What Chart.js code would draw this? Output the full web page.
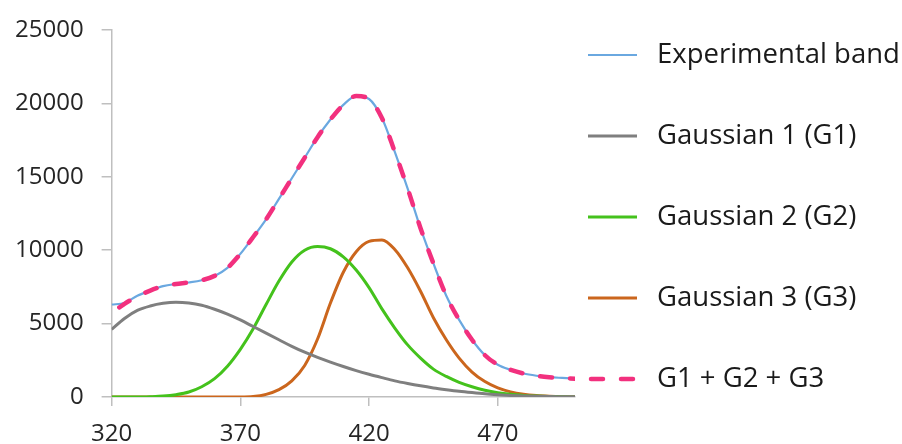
<!DOCTYPE html>
<html>
<head>
<meta charset="utf-8">
<script src="https://cdn.jsdelivr.net/npm/chart.js@4/dist/chart.umd.min.js"></script>
<style>
  html, body { margin: 0; padding: 0; background: #fff; }
  #wrap { width: 902px; height: 444px; position: relative; }
</style>
</head>
<body>
<div id="wrap"><canvas id="chart"></canvas></div>
<script>
const wavelength = [320, 325, 330, 335, 340, 345, 350, 355, 360, 365, 370, 375, 380, 385, 390, 395, 400, 405, 410, 415,
  420, 425, 430, 435, 440, 445, 450, 455, 460, 465, 470, 475, 480, 485, 490, 495, 500];

const experimental = [6300, 6400, 6900, 7250, 7550, 7700, 7800, 7950, 8250, 8800, 9750, 10900, 12100, 13500, 14900, 16300,
  17700, 18900, 19900, 20500, 20300, 19000, 16700, 14200, 11500, 9100, 6900, 5250, 3900, 2850, 2200, 1850, 1600, 1450,
  1350, 1300, 1260];

const gauss1 = [4600, 5350, 5900, 6200, 6380, 6450, 6400, 6250, 5980, 5650, 5250, 4800, 4350, 3900, 3450, 3050, 2700, 2380,
  2080, 1800, 1550, 1320, 1100, 920, 760, 620, 500, 390, 300, 220, 160, 110, 75, 50, 30, 20, 10];

const gauss2 = [0, 0, 0, 20, 60, 160, 340, 700, 1250, 2100, 3250, 4650, 6300, 7900, 9200, 10000, 10250, 10100, 9550, 8650,
  7450, 6000, 4700, 3550, 2650, 1900, 1400, 1000, 700, 460, 290, 180, 110, 60, 30, 15, 5];

const gauss3 = [0, 0, 0, 0, 0, 0, 0, 0, 0, 0, 0, 30, 180, 500, 1100, 2150, 3950, 6400, 8500, 9900, 10600, 10700, 10050,
  8800, 7200, 5400, 3900, 2650, 1700, 1050, 620, 350, 190, 100, 50, 20, 10];

const sumWavelength = [323, 325, 330, 335, 340, 345, 350, 355, 360, 365, 370, 375, 380, 385, 390, 395, 400, 405, 410, 415,
  420, 425, 430, 435, 440, 445, 450, 455, 460, 465, 470, 475, 480, 485, 490, 495, 500];

const gaussSum = [6100, 6350, 6850, 7250, 7550, 7700, 7800, 7950, 8250, 8800, 9750, 10900, 12100, 13500, 14900, 16300,
  17700, 18900, 19900, 20500, 20300, 19000, 16700, 14200, 11500, 9100, 6900, 5250, 3900, 2850, 2200, 1850, 1600, 1450,
  1350, 1280, 1250];

const seriesNames = ["Experimental band", "Gaussian 1 (G1)", "Gaussian 2 (G2)", "Gaussian 3 (G3)", "G1 + G2 + G3"];
const xTicks = [320, 370, 420, 470];
const yTicks = [0, 5000, 10000, 15000, 20000, 25000];

const FONT = "'Open Sans', 'Noto Sans', sans-serif";

function pts(xs, ys) {
  return xs.map((x, i) => ({ x: x, y: ys[i] }));
}

function line(label, xs, ys, color, width, extra) {
  return Object.assign({
    label: label,
    data: pts(xs, ys),
    borderColor: color,
    backgroundColor: color,
    borderWidth: width,
    pointRadius: 0,
    fill: false,
    cubicInterpolationMode: "monotone",
    order: 1
  }, extra || {});
}

// legend drawn by hand at the right, like the original
const sideLegend = {
  id: "sideLegend",
  afterDraw(chart) {
    const ctx = chart.ctx;
    ctx.save();
    chart.data.datasets.forEach((ds, i) => {
      const y = 55 + i * 81;
      ctx.beginPath();
      ctx.strokeStyle = ds.borderColor;
      ctx.lineWidth = ds.borderWidth;
      ctx.lineCap = ds.borderDash ? "round" : "butt";
      ctx.setLineDash(ds.borderDash || []);
      ctx.moveTo(ds.borderDash ? 591 : 588, y);
      ctx.lineTo(637, y);
      ctx.stroke();
      ctx.setLineDash([]);
      ctx.fillStyle = "#1a1a1a";
      ctx.font = "27.5px " + FONT;
      ctx.textBaseline = "middle";
      ctx.textAlign = "left";
      ctx.fillText(ds.label, 657, y);
    });
    ctx.restore();
  }
};

new Chart(document.getElementById("chart"), {
  type: "line",
  data: {
    datasets: [
      line(seriesNames[0], wavelength, experimental, "#6aa8e0", 2.2),
      line(seriesNames[1], wavelength, gauss1, "#7f7f7f", 3),
      line(seriesNames[2], wavelength, gauss2, "#44c21c", 3),
      line(seriesNames[3], wavelength, gauss3, "#cb661d", 3),
      line(seriesNames[4], sumWavelength, gaussSum, "#f2307e", 4.5, {
        borderDash: [12, 18],
        borderCapStyle: "round",
        order: 0
      })
    ]
  },
  options: {
    responsive: true,
    maintainAspectRatio: false,
    animation: false,
    layout: { padding: { left: -3, right: 327, top: 15, bottom: -18 } },
    plugins: {
      legend: { display: false },
      tooltip: { enabled: false }
    },
    scales: {
      x: {
        type: "linear",
        min: 320,
        max: 500,
        afterBuildTicks: (axis) => { axis.ticks = xTicks.map(v => ({ value: v })); },
        grid: { drawOnChartArea: false, drawTicks: true, tickLength: 9, color: "#bfbfbf", lineWidth: 1.5 },
        border: { display: true, color: "#bfbfbf", width: 1.5 },
        ticks: { color: "#262626", font: { family: FONT, size: 24, lineHeight: 1 }, padding: 16, maxRotation: 0,
          callback: v => String(v) }
      },
      y: {
        min: 0,
        max: 25000,
        afterBuildTicks: (axis) => { axis.ticks = yTicks.map(v => ({ value: v })); },
        grid: { drawOnChartArea: false, drawTicks: true, tickLength: 10, color: "#bfbfbf", lineWidth: 1.5 },
        border: { display: true, color: "#bfbfbf", width: 1.5 },
        ticks: { color: "#262626", font: { family: FONT, size: 24, lineHeight: 1 }, padding: 18,
          callback: v => String(v) }
      }
    }
  },
  plugins: [sideLegend]
});
</script>
</body>
</html>
